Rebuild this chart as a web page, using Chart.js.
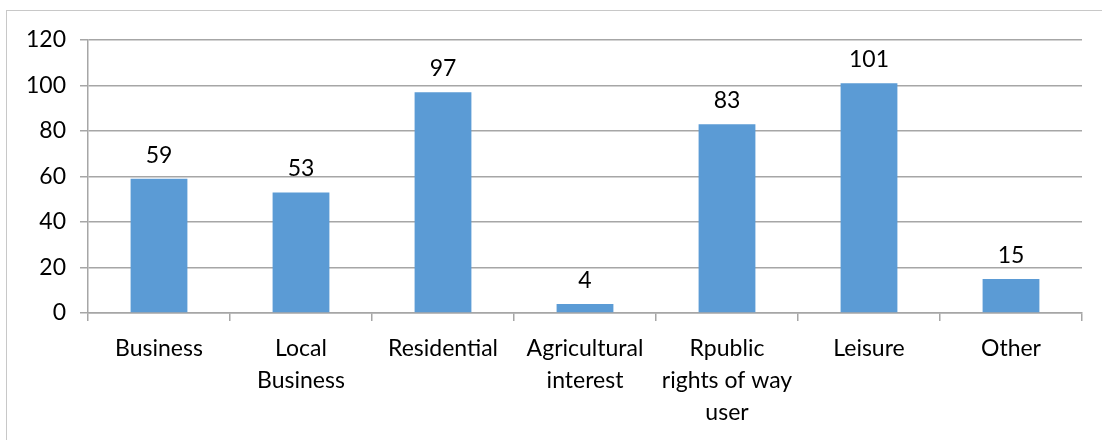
<!DOCTYPE html>
<html>
<head>
<meta charset="utf-8">
<script src="https://cdn.jsdelivr.net/npm/chart.js@4"></script>
<style>
  html, body { margin: 0; padding: 0; background: #fff; }
  #wrap { position: relative; width: 1102px; height: 440px; overflow: hidden; }
  #frame { position: absolute; left: 6px; top: 10px; width: 1200px; height: 600px; border: 1px solid #c8c8c8; box-sizing: border-box; }
  canvas { position: absolute; left: 0; top: 0; }
</style>
</head>
<body>
<div id="wrap">
  <div id="frame"></div>
  <canvas id="respondents" width="1102" height="440"></canvas>
</div>
<script>
const categories = [
    "Business",
    ["Local", "Business"],
    "Residential",
    ["Agricultural", "interest"],
    ["Rpublic", "rights of way", "user"],
    "Leisure",
    "Other"
];
const counts = [59, 53, 97, 4, 83, 101, 15];
const yTicks = [0, 20, 40, 60, 80, 100, 120];

const fontFamily = "Lato, 'Open Sans', sans-serif";
const gridColor = "#a6a6a6";

// value labels above each bar
const barValues = {
    id: "barValues",
    afterDatasetsDraw(chart) {
        const ctx = chart.ctx;
        const meta = chart.getDatasetMeta(0);
        ctx.save();
        ctx.font = "23px " + fontFamily;
        ctx.fillStyle = "#000";
        ctx.textAlign = "center";
        ctx.textBaseline = "bottom";
        meta.data.forEach((bar, i) => {
            ctx.fillText(counts[i], bar.x, bar.y - 12);
        });
        ctx.restore();
    }
};

let ctx = document.getElementById("respondents").getContext("2d");

let respondentChart = new Chart(ctx, {
    type: "bar",
    data: {
        labels: categories,
        datasets: [{
            data: counts,
            backgroundColor: "#5b9bd5",
            barPercentage: 0.4,
            categoryPercentage: 1.0,
        }],
    },
    options: {
        responsive: false,
        animation: false,
        layout: {
            padding: { top: 40, right: 20, bottom: 0, left: 0 }
        },
        plugins: {
            legend: { display: false },
            tooltip: { enabled: false },
        },
        scales: {
            y: {
                min: 0,
                max: 120,
                afterBuildTicks: (axis) => {
                    axis.ticks = yTicks.map(v => ({ value: v }));
                },
                afterFit: (axis) => { axis.width = 88; },
                ticks: {
                    color: "#000",
                    padding: 14,
                    font: { family: fontFamily, size: 23 },
                },
                grid: {
                    color: gridColor,
                    lineWidth: 1.5,
                    tickLength: 8,
                },
                border: { color: gridColor, width: 1.5 },
            },
            x: {
                afterFit: (axis) => { axis.height = 127; },
                ticks: {
                    color: "#000",
                    padding: 11,
                    maxRotation: 0,
                    autoSkip: false,
                    font: { family: fontFamily, size: 23, lineHeight: 1.4 },
                },
                grid: {
                    color: gridColor,
                    lineWidth: 1.5,
                    drawOnChartArea: false,
                    tickLength: 8,
                    offset: true,
                },
                border: { color: gridColor, width: 1.5 },
            },
        },
    },
    plugins: [barValues],
});
</script>
</body>
</html>
